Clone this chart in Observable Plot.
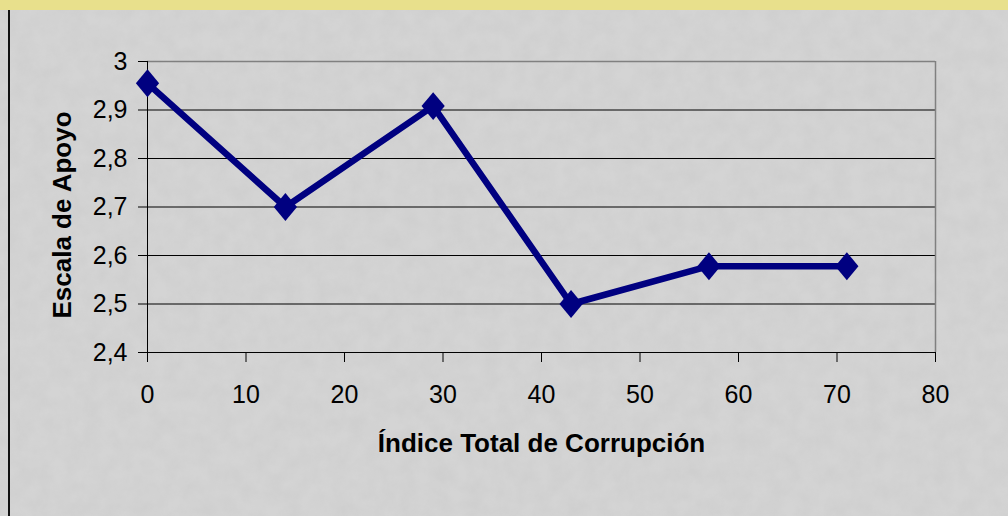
<!DOCTYPE html>
<html>
<head>
<meta charset="utf-8">
<script src="https://cdn.jsdelivr.net/npm/d3@7"></script>
<script src="https://cdn.jsdelivr.net/npm/@observablehq/plot@0.6"></script>
<style>
  html, body { margin: 0; padding: 0; }
  #wrap { position: relative; width: 1008px; height: 516px; overflow: hidden; background: #cfcfcf; font-family: "Liberation Sans", Arial, sans-serif; }
  #tex { position: absolute; left: 0; top: 0; }
  #band { position: absolute; left: 0; top: 0; width: 1008px; height: 10px; background: #e8e08c; }
  #edge { position: absolute; left: 8px; top: 10px; width: 2px; height: 506px; background: #111; }
  #chart { position: absolute; left: 0; top: 0; }
</style>
</head>
<body>
<div id="wrap">
  <svg id="tex" width="1008" height="516">
    <filter id="noise" x="0" y="0" width="100%" height="100%">
      <feTurbulence type="fractalNoise" baseFrequency="0.06" numOctaves="4" seed="7" result="t"/>
      <feColorMatrix type="matrix" values="0 0 0 0 0.55  0 0 0 0 0.55  0 0 0 0 0.55  0 0 0 -1.6 1.2" />
    </filter>
    <rect width="1008" height="516" fill="#d4d4d4"/>
    <rect width="1008" height="516" filter="url(#noise)" opacity="0.3"/>
  </svg>
  <div id="band"></div>
  <div id="edge"></div>
  <div id="chart"></div>
</div>
<script>
const indice = [0, 14, 29, 43, 57, 71];
const apoyo = [2.955, 2.70, 2.908, 2.50, 2.578, 2.578];
const xTicks = [0, 10, 20, 30, 40, 50, 60, 70, 80];
const yTicks = [2.4, 2.5, 2.6, 2.7, 2.8, 2.9, 3];
const gridY = [2.5, 2.6, 2.7, 2.8, 2.9];
const xLabel = "Índice Total de Corrupción";
const yLabel = "Escala de Apoyo";

const data = indice.map((x, i) => ({x, y: apoyo[i]}));
const fmt = d => String(Math.round(d * 10) / 10).replace(".", ",");

// rhombus marker, slightly taller than wide
const rhombus = {
  draw(context, size) {
    const s = Math.sqrt(size);
    const w = s * 0.69, h = s * 0.83;
    context.moveTo(0, -h);
    context.lineTo(w, 0);
    context.lineTo(0, h);
    context.lineTo(-w, 0);
    context.closePath();
  }
};

const chart = Plot.plot({
  width: 1008,
  height: 516,
  marginLeft: 147,
  marginRight: 73,
  marginTop: 61,
  marginBottom: 164,
  style: {background: "transparent", fontFamily: "'Liberation Sans', Arial, sans-serif", color: "#000"},
  x: {domain: [0, 80]},
  y: {domain: [2.4, 3]},
  marks: [
    Plot.ruleY(gridY, {stroke: "#000", strokeWidth: 1}),
    Plot.ruleY([3], {stroke: "#808080", strokeWidth: 1.5}),
    Plot.ruleX([80], {stroke: "#808080", strokeWidth: 1.5}),
    Plot.ruleX([0], {stroke: "#000", strokeWidth: 1}),
    Plot.ruleY([2.4], {stroke: "#000", strokeWidth: 1}),
    Plot.axisX({ticks: xTicks, tickSize: 10, tickPadding: 23, stroke: "#000", fill: "#000", fontSize: 25,
      label: xLabel, labelAnchor: "center", labelOffset: 99, labelArrow: "none"}),
    Plot.axisY({ticks: yTicks, tickSize: 9, tickPadding: 11, tickFormat: fmt, stroke: "#000", fill: "#000", fontSize: 25,
      label: yLabel, labelAnchor: "center", labelOffset: 95, labelArrow: "none"}),
    Plot.line(data, {x: "x", y: "y", stroke: "#000080", strokeWidth: 6.5}),
    Plot.dot(data, {x: "x", y: "y", symbol: rhombus, r: 9.5, fill: "#000080", stroke: "none"})
  ]
});
document.getElementById("chart").appendChild(chart);
const svg = d3.select(chart);
svg.selectAll("[aria-label='x-axis label'] text, [aria-label='y-axis label'] text")
  .attr("font-weight", "bold").attr("font-size", 26);
svg.selectAll("[aria-label='y-axis label'] text").each(function() {
  const t = this.getAttribute("transform") || "";
  this.setAttribute("transform", "translate(0,8) " + t);
});
</script>
</body>
</html>
